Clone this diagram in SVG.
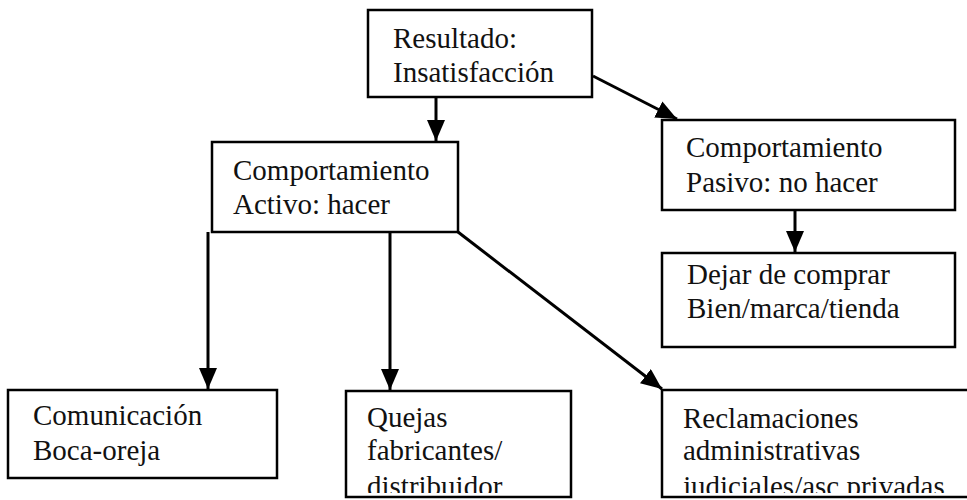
<svg xmlns="http://www.w3.org/2000/svg" width="967" height="500" viewBox="0 0 967 500">
<style>
.box{fill:#fff;stroke:#000;stroke-width:2.5}
.t{font-family:"Liberation Serif","Times New Roman",serif;font-size:29px;fill:#111}
.c{stroke:#000;stroke-width:3;fill:none}
</style>
<defs>
<marker id="a" viewBox="0 0 21 18" refX="21" refY="9" markerWidth="21" markerHeight="18" orient="auto" markerUnits="userSpaceOnUse">
<path d="M0,0 L21,9 L0,18 Z" fill="#000"/>
</marker>
<clipPath id="cb"><rect x="0" y="0" width="967" height="493"/></clipPath>
</defs>
<rect width="967" height="500" fill="#fff"/>
<g id="connectors">
<line class="c" x1="436" y1="97" x2="436" y2="141" marker-end="url(#a)"/>
<line class="c" x1="593" y1="76" x2="677" y2="119" marker-end="url(#a)"/>
<line class="c" x1="795" y1="210" x2="795" y2="252" marker-end="url(#a)"/>
<line class="c" x1="208" y1="232" x2="208" y2="389" marker-end="url(#a)"/>
<line class="c" x1="390" y1="232" x2="390" y2="390" marker-end="url(#a)"/>
<line class="c" x1="458" y1="232" x2="662" y2="389" marker-end="url(#a)"/>
</g>
<g id="n1">
<rect class="box" x="368" y="10" width="224" height="87"/>
<text class="t" x="393" y="48">Resultado:</text>
<text class="t" x="393" y="82">Insatisfacción</text>
</g>
<g id="n2">
<rect class="box" x="212" y="142" width="246" height="90"/>
<text class="t" x="233" y="180">Comportamiento</text>
<text class="t" x="233" y="214">Activo: hacer</text>
</g>
<g id="n3">
<rect class="box" x="662" y="120" width="293" height="90"/>
<text class="t" x="686" y="157">Comportamiento</text>
<text class="t" x="686" y="192">Pasivo: no hacer</text>
</g>
<g id="n4">
<rect class="box" x="662" y="253" width="293" height="94"/>
<text class="t" x="687" y="284">Dejar de comprar</text>
<text class="t" x="687" y="318">Bien/marca/tienda</text>
</g>
<g id="n5">
<rect class="box" x="8" y="390" width="269" height="88"/>
<text class="t" x="33" y="425">Comunicación</text>
<text class="t" x="33" y="460">Boca-oreja</text>
</g>
<g id="n6">
<rect class="box" x="346" y="391" width="225" height="106"/>
<g clip-path="url(#cb)">
<text class="t" x="367" y="427">Quejas</text>
<text class="t" x="367" y="460">fabricantes/</text>
<text class="t" x="367" y="496">distribuidor</text>
</g>
</g>
<g id="n7">
<rect class="box" x="662" y="390" width="320" height="107"/>
<g clip-path="url(#cb)">
<text class="t" x="683" y="428">Reclamaciones</text>
<text class="t" x="683" y="460">administrativas</text>
<text class="t" x="683" y="496">judiciales/asc privadas</text>
</g>
</g>
</svg>
